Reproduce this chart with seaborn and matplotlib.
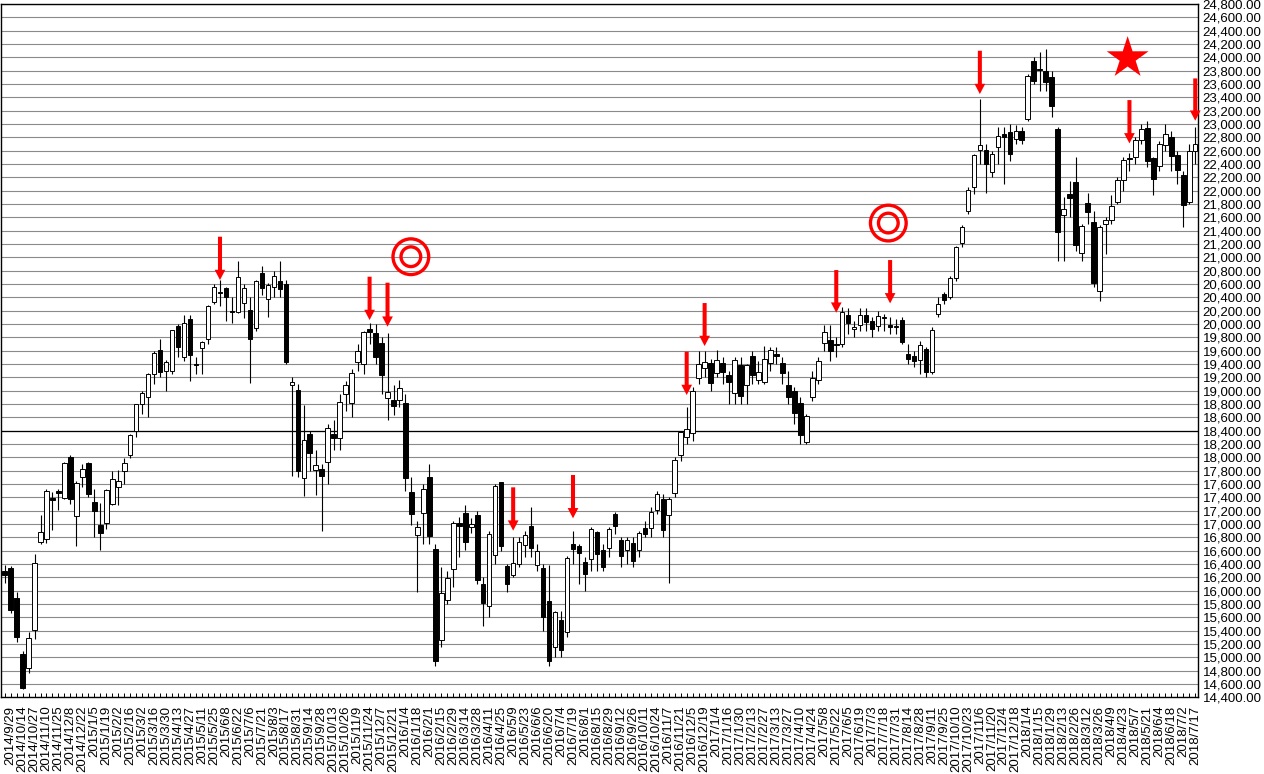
import matplotlib
matplotlib.use("Agg")
import matplotlib.pyplot as plt
import numpy as np
import pandas as pd
import seaborn as sns

# weekly labels (every second week, starting with the 2nd candle)
tick_dates = [
    "2014/9/29", "2014/10/14", "2014/10/27", "2014/11/10", "2014/11/25", "2014/12/8", "2014/12/22",
    "2015/1/5", "2015/1/19", "2015/2/2", "2015/2/16", "2015/3/2", "2015/3/16", "2015/3/30", "2015/4/13",
    "2015/4/27", "2015/5/11", "2015/5/25", "2015/6/8", "2015/6/22", "2015/7/6", "2015/7/21", "2015/8/3",
    "2015/8/17", "2015/8/31", "2015/9/14", "2015/9/28", "2015/10/13", "2015/10/26", "2015/11/9",
    "2015/11/24", "2015/12/7", "2015/12/21",
    "2016/1/4", "2016/1/18", "2016/2/1", "2016/2/15", "2016/2/29", "2016/3/14", "2016/3/28", "2016/4/11",
    "2016/4/25", "2016/5/9", "2016/5/23", "2016/6/6", "2016/6/20", "2016/7/4", "2016/7/19", "2016/8/1",
    "2016/8/15", "2016/8/29", "2016/9/12", "2016/9/26", "2016/10/11", "2016/10/24", "2016/11/7",
    "2016/11/21", "2016/12/5", "2016/12/19",
    "2017/1/4", "2017/1/16", "2017/1/30", "2017/2/13", "2017/2/27", "2017/3/13", "2017/3/27", "2017/4/10",
    "2017/4/24", "2017/5/8", "2017/5/22", "2017/6/5", "2017/6/19", "2017/7/3", "2017/7/18", "2017/7/31",
    "2017/8/14", "2017/8/28", "2017/9/11", "2017/9/25", "2017/10/10", "2017/10/23", "2017/11/6",
    "2017/11/20", "2017/12/4", "2017/12/18",
    "2018/1/4", "2018/1/15", "2018/1/29", "2018/2/13", "2018/2/26", "2018/3/12", "2018/3/26", "2018/4/9",
    "2018/4/23", "2018/5/7", "2018/5/21", "2018/6/4", "2018/6/18", "2018/7/2", "2018/7/17",
]

# weekly OHLC, 2014/9/22 .. 2018/7/17
opens = [
    16290, 16340, 15885, 15045, 14835, 15410, 16735, 16770, 17395, 17495, 17385, 18000, 17120, 17700, 17920,
    17335, 16985, 17010, 17295, 17550, 17795, 18030, 18400, 18800, 18900, 19250, 19610, 19300, 19300, 19970,
    19510, 20070, 19395, 19635, 19770, 20335, 20480, 20535, 20190, 20185, 20310, 20210, 19935, 20760, 20370,
    20550, 20640, 20600, 19080, 19010, 17685, 18345, 17810, 17820, 17925, 18350, 18285, 18950, 18820, 19435,
    19400, 19920, 19860, 19720, 18885, 18860, 18860,
    18820, 17485, 16840, 17160, 17700, 16625, 15260, 15860, 16320, 17020, 17160, 16960, 17135, 16100, 15770,
    16535, 17625, 16370, 16235, 16400, 16685, 16975, 16385, 16335, 15850, 15160, 15560, 15385, 16700, 16670,
    16435, 16470, 16875, 16610, 16635, 17145, 16760, 16610, 16720, 16610, 16935, 16935, 17210, 17370, 17135,
    17470, 18035, 18310, 18370, 19185, 19335, 19410,
    19260, 19420, 19235, 18960, 19385, 19085, 19520, 19160, 19135, 19410, 19550, 19420, 19085, 19000, 18810,
    18235, 18900, 19160, 19710, 19760, 19700, 19700, 20135, 19930, 19985, 20135, 20050, 19970, 20090, 19975,
    19950, 20060, 19550, 19520, 19460, 19620, 19275, 20150, 20445, 20410, 20685, 21220, 21700, 22050, 22610,
    22610, 22285, 22660, 22845, 22885, 22770, 22900,
    23070, 23950, 23830, 23800, 23710, 22920, 21635, 21950, 22135, 21060, 21820, 21535, 20500, 21500, 21560,
    21835, 22160, 22490, 22510, 22760, 22935, 22485, 22370, 22685, 22800, 22535, 22235, 21835, 22600,
]
highs = [
    16390, 16375, 15985, 15100, 15385, 16545, 17130, 17520, 17485, 17520, 17935, 18030, 17650, 17905, 17925,
    17525, 17320, 17520, 17800, 17810, 17990, 18350, 18800, 19000, 19270, 19590, 19778, 19460, 19910, 20006,
    20133, 20130, 19500, 19740, 20280, 20600, 20655, 20560, 20410, 20952, 20600, 20400, 20660, 20870, 20620,
    20800, 20946, 20660, 19200, 19100, 18790, 18400, 18110, 17900, 18500, 18560, 18950, 19140, 19320, 19700,
    19900, 20012, 20000, 19800, 19869, 19090, 19160,
    18951, 17710, 17050, 17600, 17905, 16700, 16360, 16300, 17050, 17110, 17290, 17090, 17200, 16200, 16900,
    17600, 17630, 16400, 16800, 16800, 16900, 17250, 16700, 16400, 16390, 15700, 15700, 16520, 16900, 16700,
    16500, 16950, 16900, 16700, 16950, 17180, 16800, 16800, 16800, 16900, 17050, 17250, 17500, 17450, 17400,
    18000, 18400, 18750, 19050, 19600, 19600, 19480,
    19615, 19500, 19300, 19500, 19500, 19400, 19600, 19450, 19670, 19650, 19650, 19500, 19300, 19050, 18900,
    18650, 19300, 19500, 19980, 19990, 19800, 20250, 20240, 20050, 20240, 20240, 20100, 20200, 20150, 20100,
    20080, 20100, 19700, 19600, 19750, 19650, 19950, 20400, 20480, 20720, 21170, 21480, 22050, 22550, 23382,
    22700, 22600, 22950, 22950, 23000, 22990, 22950,
    23750, 24000, 24085, 24129, 23800, 22950, 21900, 22150, 22500, 21500, 21970, 21700, 21480, 21600, 21930,
    22200, 22500, 22560, 22800, 23000, 23050, 22500, 22750, 23000, 22900, 22600, 22300, 22700, 22950,
]
lows = [
    16110, 15660, 15230, 14529, 14770, 15270, 16700, 16720, 16910, 17210, 17380, 17300, 16672, 17550, 17400,
    16808, 16610, 16920, 17290, 17280, 17600, 17990, 18300, 18650, 18600, 19100, 19200, 18990, 19250, 19500,
    19450, 19150, 19250, 19250, 19700, 20300, 20270, 20040, 20010, 20170, 20093, 19115, 19900, 20440, 20100,
    20400, 20400, 19400, 17714, 17700, 17415, 17800, 17440, 16901, 17600, 18110, 18110, 18700, 18600, 19300,
    19250, 19700, 19400, 18950, 18562, 18640, 18750,
    17500, 16985, 15987, 16700, 16700, 14865, 15160, 15800, 16050, 16510, 16610, 16870, 16100, 15471, 15600,
    16400, 16600, 15975, 16200, 16350, 16500, 16500, 16300, 15400, 14864, 15000, 15000, 15300, 16400, 16100,
    16000, 16300, 16300, 16300, 16500, 16850, 16350, 16400, 16350, 16500, 16800, 16800, 17150, 16800, 16111,
    17400, 17950, 18200, 18250, 19100, 19200, 19000,
    19200, 19100, 18800, 18800, 18800, 18800, 19100, 19100, 19100, 19300, 19400, 19100, 18800, 18500, 18200,
    18200, 18850, 19100, 19600, 19450, 19500, 19650, 19850, 19800, 19900, 19900, 19800, 19900, 19900, 19850,
    19850, 19700, 19400, 19350, 19250, 19200, 19250, 20100, 20300, 20380, 20650, 21150, 21650, 21950, 22400,
    21970, 22200, 22400, 22100, 22450, 22700, 22700,
    23050, 23600, 23500, 23500, 23100, 20950, 20950, 21600, 21100, 20940, 21500, 20550, 20347, 21050, 21500,
    21800, 22000, 22300, 22400, 22700, 22350, 21930, 22300, 22600, 22300, 22100, 21460, 21800, 22400,
]
closes = [
    16230, 15710, 15300, 14535, 15290, 16415, 16880, 17490, 17360, 17460, 17920, 17370, 17620, 17820, 17450,
    17200, 16870, 17510, 17675, 17650, 17915, 18330, 18797, 18971, 19254, 19560, 19285, 19435, 19908, 19652,
    20020, 19531, 19379, 19732, 20264, 20563, 20461, 20407, 20174, 20706, 20539, 19779, 20650, 20544, 20585,
    20724, 20519, 19435, 19136, 17792, 18264, 18070, 17880, 17725, 18438, 18291, 18825, 19083, 19265, 19596,
    19879, 19883, 19504, 19230, 18986, 18769, 19033,
    17697, 17147, 16958, 17518, 16819, 14952, 15967, 16188, 17014, 16970, 16724, 17002, 16164, 15821, 16848,
    17572, 16666, 16106, 16412, 16736, 16834, 16642, 16601, 15599, 14952, 15682, 15106, 16497, 16627, 16569,
    16254, 16919, 16545, 16360, 16925, 16965, 16519, 16754, 16449, 16860, 16856, 17184, 17446, 16905, 17374,
    17967, 18381, 18426, 18996, 19401, 19427, 19114,
    19454, 19287, 19137, 19467, 18918, 19378, 19235, 19283, 19469, 19604, 19521, 19262, 18909, 18664, 18335,
    18620, 19197, 19445, 19883, 19590, 19686, 20177, 20013, 19943, 20132, 20033, 19929, 20118, 20099, 19959,
    19952, 19729, 19470, 19452, 19691, 19274, 19909, 20296, 20356, 20690, 21155, 21457, 22008, 22539, 22681,
    22396, 22550, 22819, 22811, 22553, 22902, 22765,
    23714, 23653, 23808, 23631, 23274, 21382, 21720, 21892, 21181, 21469, 21676, 20617, 21454, 21567, 21778,
    22162, 22467, 22472, 22758, 22930, 22450, 22171, 22694, 22851, 22516, 22304, 21788, 22597, 22697,
]

# red markers: arrows (week, tip level, tail level), double circles, star
arrow_weeks = [36, 61, 64, 85, 95, 114, 117, 139, 148, 163, 188, 199]
arrow_tips = [20660, 20060, 19960, 16900, 17085, 18935, 19670, 20170, 20310, 23450, 22710, 23050]
arrow_tails = [21310, 20710, 20620, 17550, 17735, 19585, 20315, 20810, 20960, 24100, 23360, 23685]
circle_weeks = [67.9, 147.7]
circle_levels = [21010, 21515]
star_weeks = [187.7]
star_levels = [23990]

price_levels = np.arange(14400, 24801, 200)

sns.set_theme(style="white")
plt.rcParams["font.family"] = ["Liberation Sans", "DejaVu Sans"]

df = pd.DataFrame({"open": opens, "high": highs, "low": lows, "close": closes})
df["week"] = np.arange(len(df))
df["up"] = df["close"] >= df["open"]
df["body_lo"] = df[["open", "close"]].min(axis=1)
df["body_h"] = (df["close"] - df["open"]).abs().clip(lower=22)

fig = plt.figure(figsize=(12.64, 7.74), dpi=100)
ax = fig.add_axes([0.0008, 0.0991, 0.9468, 0.8956])

ax.grid(axis="y", color="#8a8a8a", linewidth=0.8)
ax.axhline(18400, color="black", linewidth=0.9, zorder=1)

ax.vlines(df["week"], df["low"], df["high"], color="black", linewidth=0.8, zorder=3)
ax.bar(df["week"], df["body_h"], bottom=df["body_lo"], width=0.75,
       color=np.where(df["up"], "white", "black"), edgecolor="black", linewidth=0.7, zorder=4)

for w, tip, tail in zip(arrow_weeks, arrow_tips, arrow_tails):
    ax.annotate("", xy=(w, tip), xytext=(w, tail), zorder=6,
                arrowprops=dict(facecolor="red", edgecolor="none", width=2.9,
                                headwidth=7.7, headlength=7.4, shrink=0))

ax.scatter(circle_weeks, circle_levels, s=661, facecolors="none", edgecolors="red", linewidths=2.4, zorder=6)
ax.scatter(circle_weeks, circle_levels, s=201, facecolors="none", edgecolors="red", linewidths=2.4, zorder=6)
sns.scatterplot(x=star_weeks, y=star_levels, marker="*", s=1005, color="red", edgecolor="none",
                legend=False, ax=ax, zorder=6)

ax.set_xlim(-0.6, 199.42)
ax.set_ylim(14400, 24800)

ax.set_xticks(np.arange(1, 200, 2))
ax.set_xticklabels(tick_dates, rotation=90, fontsize=9.5)
ax.set_xticks(np.arange(0, 200, 2), minor=True)
ax.tick_params(axis="x", which="both", direction="in", length=3, width=0.7, pad=6, bottom=True, colors="black")

ax.yaxis.tick_right()
ax.set_yticks(price_levels)
ax.set_yticklabels([f"{v:,.2f}" for v in price_levels], fontsize=9.5)
ax.tick_params(axis="y", length=0, pad=3.5, colors="black")
ax.set_axisbelow(True)

for side in ["left", "right", "top", "bottom"]:
    ax.spines[side].set_visible(True)
    ax.spines[side].set_color("black")
    ax.spines[side].set_linewidth(1.0)

fig.savefig("out.png", dpi=100)
